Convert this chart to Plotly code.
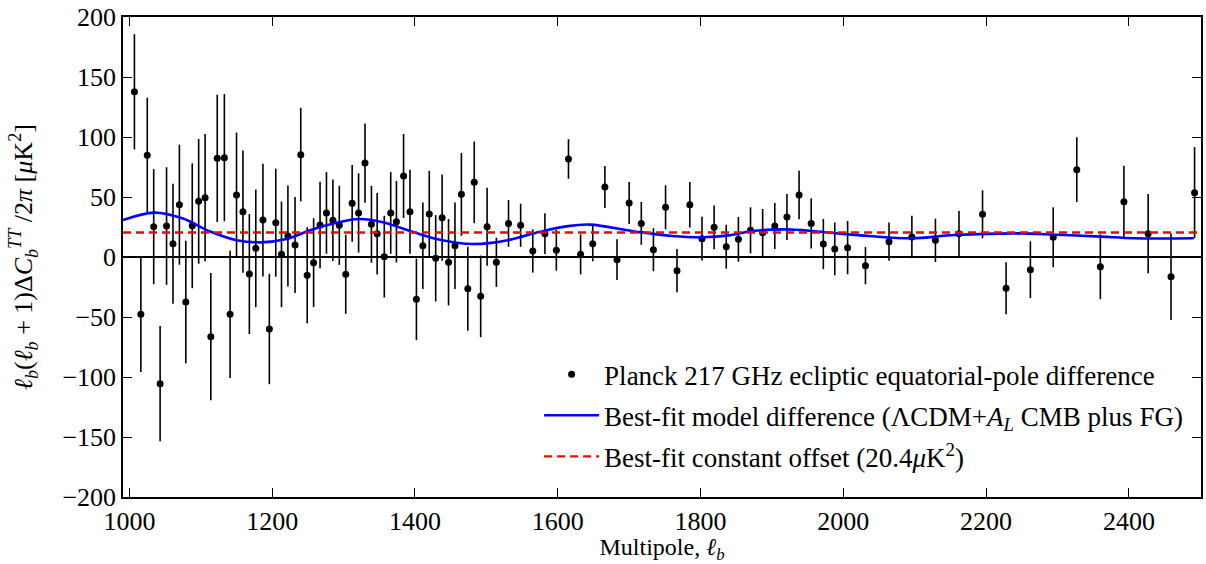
import plotly.graph_objects as go

# ---- data ----
ell = [1007, 1016, 1025, 1034, 1043, 1052, 1061, 1070, 1079, 1088, 1097, 1106, 1114, 1123, 1133,
       1141, 1150, 1159, 1168, 1177, 1187, 1196, 1205, 1213, 1222, 1232, 1240, 1249, 1258, 1267,
       1276, 1285, 1294, 1303, 1312, 1321, 1330, 1339, 1347, 1357, 1366, 1374, 1384, 1393, 1402,
       1411, 1420, 1429, 1438, 1447, 1456, 1465, 1474, 1483, 1492, 1501,
       1514, 1531, 1548, 1565, 1582, 1598, 1615, 1632, 1649, 1666, 1683, 1700, 1717, 1734, 1751,
       1767, 1785, 1802, 1819, 1836, 1853, 1870, 1887, 1904, 1921, 1938, 1955, 1972, 1988, 2006,
       2031, 2064, 2096, 2129, 2162, 2195, 2228, 2262, 2294, 2327, 2360, 2393, 2427, 2459, 2492]
diff = [137.7, -47.8, 84.7, 25.3, -105.6, 25.8, 11.0, 43.6, -37.5, 26.0, 46.4, 49.4, -66.4, 82.2, 82.8,
        -47.8, 51.7, 37.8, -14.2, 7.2, 30.8, -60.0, 28.6, 2.2, 17.5, 10.0, 85.3, -15.3, -4.7, 26.7,
        36.7, 30.6, 26.4, -14.4, 44.7, 36.7, 78.3, 27.2, 19.4, 0.3, 36.7, 29.4, 67.5, 37.8, -35.3,
        9.4, 35.8, -1.1, 32.8, -4.4, 9.4, 52.2, -26.4, 62.2, -32.8, 25.3,
        -4.4, 28.0, 26.4, 5.0, 19.4, 5.6, 81.7, 2.2, 11.1, 58.3, -2.2, 45.0, 28.0, 6.1, 41.4,
        -11.4, 43.6, 15.3, 24.7, 8.6, 14.7, 22.2, 20.3, 25.8, 33.3, 51.7, 28.0, 10.8, 6.7, 7.8,
        -7.2, 12.8, 16.7, 13.9, 19.4, 35.6, -26.1, -10.6, 16.4, 72.8, -8.1, 46.1, 19.4, -16.4, 53.6]
err = [48, 48, 48, 48, 48, 49, 50, 50, 51, 52, 52, 53, 53, 53, 53,
       53, 52, 51, 50, 49, 47, 46, 45, 44, 42, 40, 39, 40, 37, 36,
       34, 34, 33, 33, 32, 33, 33, 32, 34, 34, 34, 34, 35, 35, 34,
       36, 36, 36, 36, 36, 36, 34.5, 35, 34, 34, 32.5,
       20.5, 19.5, 18, 18, 17, 17, 16.5, 16.7, 14.7, 17.5, 17, 17.5, 17.8, 18, 18.3,
       18, 19, 18.3, 18.3, 18.3, 18.6, 19.2, 19.7, 19.2, 19.2, 20.2, 20.9, 20.9, 22, 22.2,
       15.5, 16, 17.7, 18, 19, 20, 21.7, 23.6, 25, 27, 27, 30, 33, 36, 38]

model_ell = [991, 1035, 1075, 1114, 1150, 1184, 1220, 1254, 1290, 1321, 1355, 1389, 1430, 1482,
             1530, 1575, 1612, 1645, 1710, 1760, 1803, 1840, 1873, 1919, 1960, 1995, 2036, 2096,
             2156, 2245, 2300, 2361, 2407, 2491]
model_val = [30.8, 37.0, 32.0, 21.0, 14.0, 12.2, 15.0, 22.5, 28.5, 31.7, 29.0, 22.5, 15.0, 10.8,
             14.0, 21.0, 25.5, 27.0, 21.1, 17.5, 16.4, 18.0, 21.7, 23.0, 21.5, 19.5, 17.5, 15.6,
             18.3, 19.7, 18.5, 17.0, 15.6, 15.6]

offset_value = 20.4
x_range = [991, 2501]
y_range = [-200, 200]
x_ticks = [1000, 1200, 1400, 1600, 1800, 2000, 2200, 2400]
y_ticks = [-200, -150, -100, -50, 0, 50, 100, 150, 200]
x_ticktext = [str(v) for v in x_ticks]
y_ticktext = [("\u2212" + str(-v)) if v < 0 else str(v) for v in y_ticks]

FONT = "Liberation Serif"
TICKFONT = dict(family=FONT, size=26, color="black")

fig = go.Figure()

fig.add_trace(go.Scatter(
    x=ell, y=diff, mode="markers",
    marker=dict(color="black", size=7),
    error_y=dict(type="data", array=err, visible=True, color="black", thickness=1.6, width=0),
    name="Planck 217 GHz ecliptic equatorial-pole difference",
    legendgroup="a",
))
fig.add_trace(go.Scatter(
    x=model_ell, y=model_val, mode="lines",
    line=dict(color="#0000ff", width=2.6, shape="spline", smoothing=1.0),
    name="Best-fit model difference (ΛCDM+<i>A<sub>L</sub></i> CMB plus FG)",
    legendgroup="b",
))
fig.add_trace(go.Scatter(
    x=x_range, y=[offset_value, offset_value], mode="lines",
    line=dict(color="#ff0000", width=2.4, dash="8px,5px"),
    name="Best-fit constant offset (20.4<i>μ</i>K<sup>2</sup>)",
    legendgroup="c",
))

fig.update_layout(
    width=1206, height=564,
    margin=dict(l=123, r=3, t=17, b=67),
    paper_bgcolor="white", plot_bgcolor="white",
    font=dict(family=FONT, color="black", size=26),
    showlegend=True,
    legend=dict(x=0.386, y=0.306, xanchor="left", yanchor="top",
                bgcolor="rgba(0,0,0,0)", borderwidth=0,
                font=dict(family=FONT, size=27, color="black"),
                tracegroupgap=3, itemwidth=55),
    xaxis=dict(
        range=x_range, tickmode="array", tickvals=x_ticks, ticktext=x_ticktext,
        tickfont=TICKFONT, zeroline=False,
        showline=True, linecolor="black", linewidth=1.5, mirror="ticks",
        ticks="inside", ticklen=9, tickwidth=1.3, tickcolor="black", showgrid=False,
        title=dict(text="Multipole, <i>ℓ<sub>b</sub></i>", font=dict(family=FONT, size=24, color="black"), standoff=8),
    ),
    yaxis=dict(
        range=y_range, tickmode="array", tickvals=y_ticks, ticktext=y_ticktext,
        tickfont=TICKFONT, zeroline=True, zerolinecolor="black", zerolinewidth=2,
        showline=True, linecolor="black", linewidth=1.5, mirror="ticks",
        ticks="inside", ticklen=9, tickwidth=1.3, tickcolor="black", showgrid=False,
        title=dict(text="<i>ℓ<sub>b</sub></i>(<i>ℓ<sub>b</sub></i> + 1)Δ<i>C<sub>b</sub><sup>TT</sup></i> /2<i>π</i> [<i>μ</i>K<sup>2</sup>]",
                   font=dict(family=FONT, size=26, color="black"), standoff=22),
    ),
)

fig.write_html("out.html")
